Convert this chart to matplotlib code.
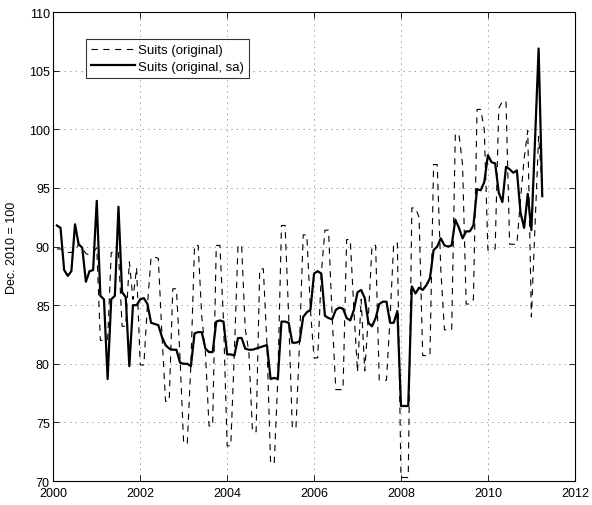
import matplotlib
matplotlib.use("Agg")
import matplotlib.pyplot as plt
import numpy as np

plt.rcParams['font.family'] = ['Liberation Sans', 'DejaVu Sans']
plt.rcParams['lines.scale_dashes'] = False

# Monthly observations, Jan 2000 .. Mar 2011 (x = 2000 + k/12)
original = [
    89.8, 89.8, 89.6, 89.5, 89.5, 89.6, 90.2, 89.9, 89.4, 89.3, 89.5, 89.9,   # k=1..12
    82.0, 82.0, 82.0, 89.5, 89.5, 89.5, 83.2, 83.2, 88.7, 85.5, 88.2, 79.9,   # 13..24
    79.9, 85.0, 89.1, 89.1, 89.0, 82.5, 76.8, 76.8, 86.4, 86.4, 80.5, 73.2,   # 25..36
    73.2, 80.0, 90.1, 90.1, 84.0, 81.0, 74.7, 74.7, 90.1, 90.1, 83.7, 73.0,   # 37..48
    73.0, 81.0, 90.1, 90.1, 83.0, 81.0, 74.2, 74.2, 88.1, 88.1, 81.6, 71.5,   # 49..60
    71.5, 78.7, 91.8, 91.8, 84.0, 74.5, 74.5, 81.9, 91.0, 91.0, 84.6, 80.5,   # 61..72
    80.5, 87.7, 91.4, 91.4, 84.0, 77.8, 77.8, 77.8, 90.6, 90.6, 84.6, 79.3,   # 73..84
    85.5, 79.4, 84.0, 90.1, 90.1, 78.6, 78.6, 78.6, 84.0, 90.3, 90.3, 70.3,   # 85..96
    70.3, 70.3, 93.3, 93.3, 92.5, 80.7, 80.7, 80.7, 97.0, 97.0, 88.0, 82.9,   # 97..108
    82.9, 82.9, 99.6, 99.6, 97.0, 85.1, 85.1, 85.5, 101.7, 101.7, 100.0, 89.7,  # 109..120
    89.7, 89.8, 101.8, 102.4, 102.4, 90.2, 90.2, 90.2, 94.0, 97.5, 99.9, 84.0,  # 121..132
    91.7, 99.4, 95.0,                                                          # 133..135
]
seas_adj = [
    91.8, 91.6, 88.0, 87.5, 87.9, 91.9, 90.2, 89.9, 87.0, 87.9, 88.0, 93.9,
    85.8, 85.5, 78.7, 85.5, 85.8, 93.4, 86.1, 85.7, 79.8, 85.0, 85.0, 85.5,
    85.6, 85.1, 83.5, 83.4, 83.3, 82.3, 81.6, 81.3, 81.2, 81.2, 80.1, 80.0,
    80.0, 79.8, 82.6, 82.7, 82.7, 81.3, 81.0, 81.0, 83.6, 83.7, 83.6, 80.8,
    80.8, 80.7, 82.2, 82.2, 81.3, 81.2, 81.2, 81.3, 81.4, 81.5, 81.6, 78.7,
    78.8, 78.7, 83.6, 83.6, 83.5, 81.8, 81.8, 81.9, 84.0, 84.4, 84.6, 87.7,
    87.9, 87.7, 84.1, 83.9, 83.8, 84.6, 84.8, 84.7, 83.9, 83.7, 84.6, 86.1,
    86.3, 85.6, 83.5, 83.2, 83.9, 85.1, 85.3, 85.3, 83.5, 83.5, 84.5, 76.4,
    76.4, 76.4, 86.6, 86.0, 86.5, 86.3, 86.7, 87.3, 89.7, 90.0, 90.7, 90.1,
    90.0, 90.1, 92.3, 91.6, 90.7, 91.3, 91.3, 91.8, 94.9, 94.8, 95.5, 97.8,
    97.2, 97.1, 94.6, 93.8, 96.8, 96.6, 96.3, 96.5, 92.9, 91.6, 94.5, 91.4,
    99.0, 106.9, 94.3,
]
start_year = 2000
x_ticks = [2000, 2002, 2004, 2006, 2008, 2010, 2012]
y_ticks = [70, 75, 80, 85, 90, 95, 100, 105, 110]
labels = ["Suits (original)", "Suits (original, sa)"]
ylabel = "Dec. 2010 = 100"

t_orig = start_year + np.arange(1, len(original) + 1) / 12.0
t_sa = start_year + np.arange(1, len(seas_adj) + 1) / 12.0

fig = plt.figure(figsize=(5.92, 5.06), dpi=100)
ax = fig.add_axes([0.090, 0.0474, 0.881, 0.9266])

ax.plot(t_orig, original, color='black', lw=0.8, linestyle=(0, (4.5, 4.0)), label=labels[0])
ax.plot(t_sa, seas_adj, color='black', lw=1.6, linestyle='-', label=labels[1])

ax.set_xlim(2000, 2012)
ax.set_ylim(70, 110)
ax.set_xticks(x_ticks)
ax.set_yticks(y_ticks)
ax.tick_params(direction='in', top=True, right=True, length=4, width=0.6, labelsize=9)
ax.tick_params(axis='y', pad=2.5)
ax.tick_params(axis='x', pad=4.5)
ax.grid(True, linestyle=(0, (1, 3)), color='black', lw=0.5, alpha=0.55)
for s in ax.spines.values():
    s.set_linewidth(0.8)
ax.set_ylabel(ylabel, fontsize=9, labelpad=4)
ax.yaxis.set_label_coords(-0.068, 0.5)

leg = ax.legend(loc='upper left', bbox_to_anchor=(0.063, 0.943), fontsize=9.5, frameon=True,
                fancybox=False, edgecolor='black', handlelength=3.3, handletextpad=0.25,
                borderpad=0.4, labelspacing=0.3, borderaxespad=0)
leg.get_frame().set_linewidth(0.8)

fig.savefig("out.png", dpi=100)
